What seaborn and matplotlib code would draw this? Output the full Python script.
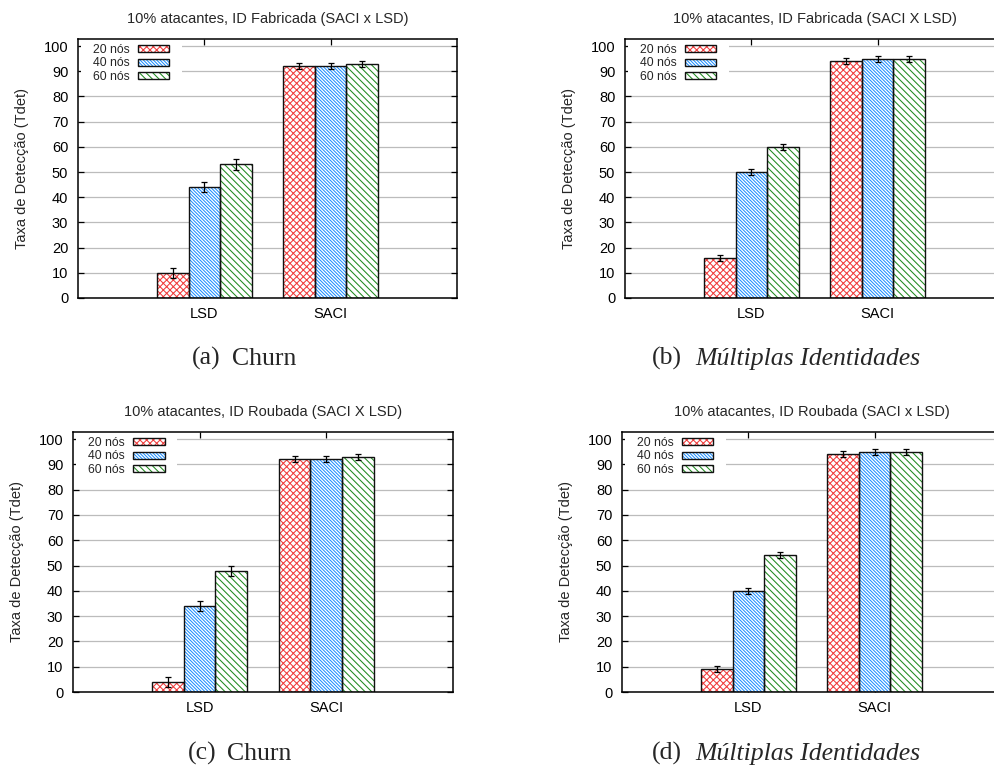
import matplotlib
matplotlib.use("Agg")
import numpy as np
import pandas as pd
import matplotlib.pyplot as plt
import matplotlib.patches as mpatches
from matplotlib.container import BarContainer
from matplotlib.legend_handler import HandlerTuple
import seaborn as sns

# ---------------- data ----------------
systems = ["LSD", "SACI"]
node_labels = ["20 nós", "40 nós", "60 nós"]

titles = [
    "10% atacantes, ID Fabricada (SACI x LSD)",
    "10% atacantes, ID Fabricada (SACI X LSD)",
    "10% atacantes, ID Roubada (SACI X LSD)",
    "10% atacantes, ID Roubada (SACI x LSD)",
]
caption_tags = ["(a)", "(b)", "(c)", "(d)"]
caption_words = ["Churn", "Múltiplas Identidades", "Churn", "Múltiplas Identidades"]
ylabel_text = "Taxa de Detecção (Tdet)"
yticks = [0, 10, 20, 30, 40, 50, 60, 70, 80, 90, 100]

# rows: 20, 40, 60 nós ; columns: LSD, SACI
vals_a = [[10, 92], [44, 92], [53, 93]]
err_a = [[2.0, 1.2], [2.0, 1.2], [2.0, 1.2]]
vals_b = [[16, 94], [50, 95], [60, 95]]
err_b = [[1.2, 1.2], [1.2, 1.2], [1.2, 1.2]]
vals_c = [[4, 92], [34, 92], [48, 93]]
err_c = [[2.0, 1.2], [2.0, 1.2], [2.0, 1.2]]
vals_d = [[9, 94], [40, 95], [54, 95]]
err_d = [[1.2, 1.2], [1.2, 1.2], [1.2, 1.2]]

# ---------------- style ----------------
hatch_colors = ["#f03c3c", "#1e8fff", "#1f8a1f"]
hatches = ["xxxxx", "\\" * 10, "\\" * 5]
outline_color = "#111111"

sns.set_style("white")
plt.rcParams["font.family"] = ["Liberation Sans", "DejaVu Sans"]
plt.rcParams["hatch.linewidth"] = 0.75
plt.rcParams["axes.axisbelow"] = True

W, H = 995, 765
fig = plt.figure(figsize=(W / 100, H / 100), dpi=100)

# axes frames in pixels: left, top, right, bottom
frames_px = [(78, 39, 457, 298), (625, 39, 1004, 298),
             (73, 432, 453, 692), (622, 432, 1001, 692)]
caption_px = [(192, 232, 365), (652, 695, 365), (188, 227, 760), (652, 695, 760)]

panel_vals = [vals_a, vals_b, vals_c, vals_d]
panel_errs = [err_a, err_b, err_c, err_d]

for k in range(4):
    l, t, r, b = frames_px[k]
    ax = fig.add_axes([l / W, 1 - b / H, (r - l) / W, (b - t) / H])
    vals = panel_vals[k]
    errs = panel_errs[k]
    rows = []
    for i, nl in enumerate(node_labels):
        for j, s in enumerate(systems):
            rows.append({"sistema": s, "nos": nl, "taxa": vals[i][j]})
    df = pd.DataFrame(rows)
    sns.barplot(data=df, x="sistema", y="taxa", hue="nos", order=systems,
                hue_order=node_labels, palette=hatch_colors, width=0.75,
                errorbar=None, legend=False, saturation=1, ax=ax)

    bars = [bar for cont in ax.containers if isinstance(cont, BarContainer)
            for bar in cont if bar is not None]
    for bar in bars:
        cx = bar.get_x() + bar.get_width() / 2
        j = int(round(cx))
        i = int(round((cx - j) / bar.get_width())) + 1
        bar.set_facecolor("white")
        bar.set_edgecolor(hatch_colors[i])
        bar.set_hatch(hatches[i])
        bar.set_linewidth(0)
        ax.add_patch(mpatches.Rectangle(bar.get_xy(), bar.get_width(), bar.get_height(),
                                        fill=False, edgecolor=outline_color,
                                        linewidth=1.0, zorder=1.5))
        ax.errorbar(cx, bar.get_height(), yerr=errs[i][j], fmt="none",
                    ecolor="black", elinewidth=0.9, capsize=2, capthick=0.9,
                    zorder=3)

    ax.set_xlim(-1, 2)
    ax.set_ylim(0, 102.8)
    ax.set_yticks(yticks)
    ax.yaxis.grid(True, color="#bcbcbc", linewidth=0.9)
    ax.xaxis.grid(False)
    ax.tick_params(axis="both", direction="in", length=4, width=0.9,
                   labelsize=10.5, colors="black")
    ax.tick_params(axis="x", top=True, bottom=True, pad=6.5)
    ax.tick_params(axis="y", left=True, right=True, pad=7)
    for sp in ax.spines.values():
        sp.set_visible(True)
        sp.set_color("black")
        sp.set_linewidth(1.1)
    ax.set_xlabel("")
    ax.set_ylabel(ylabel_text, fontsize=10.5)
    ax.yaxis.set_label_coords(-0.128, 0.5)
    ax.set_title(titles[k], fontsize=10.5, pad=11.5)

    handles = [(mpatches.Patch(facecolor="white", edgecolor=c, hatch=h, linewidth=0),
                mpatches.Patch(facecolor="none", edgecolor=outline_color, linewidth=1.0))
               for c, h in zip(hatch_colors, hatches)]
    leg = ax.legend(handles, node_labels, handler_map={tuple: HandlerTuple(ndivide=1, pad=0)},
                    loc="upper left", bbox_to_anchor=(0.0074, 1.027), borderaxespad=0,
                    borderpad=1.0, markerfirst=False, frameon=True, fancybox=False,
                    facecolor="white", edgecolor="none", framealpha=1, fontsize=8.8,
                    handlelength=2.6, handleheight=0.5, handletextpad=0.65,
                    labelspacing=0.1)
    leg.set_zorder(2.4)

    tx, wx, by = caption_px[k]
    fig.text(tx / W, 1 - by / H, caption_tags[k], fontfamily="Liberation Serif",
             fontsize=18.5, ha="left", va="baseline")
    fig.text(wx / W, 1 - by / H, caption_words[k], fontfamily="Liberation Serif",
             fontsize=18.5, ha="left", va="baseline",
             style="normal" if k in (0, 2) else "italic")

fig.savefig("out.png", dpi=100)
